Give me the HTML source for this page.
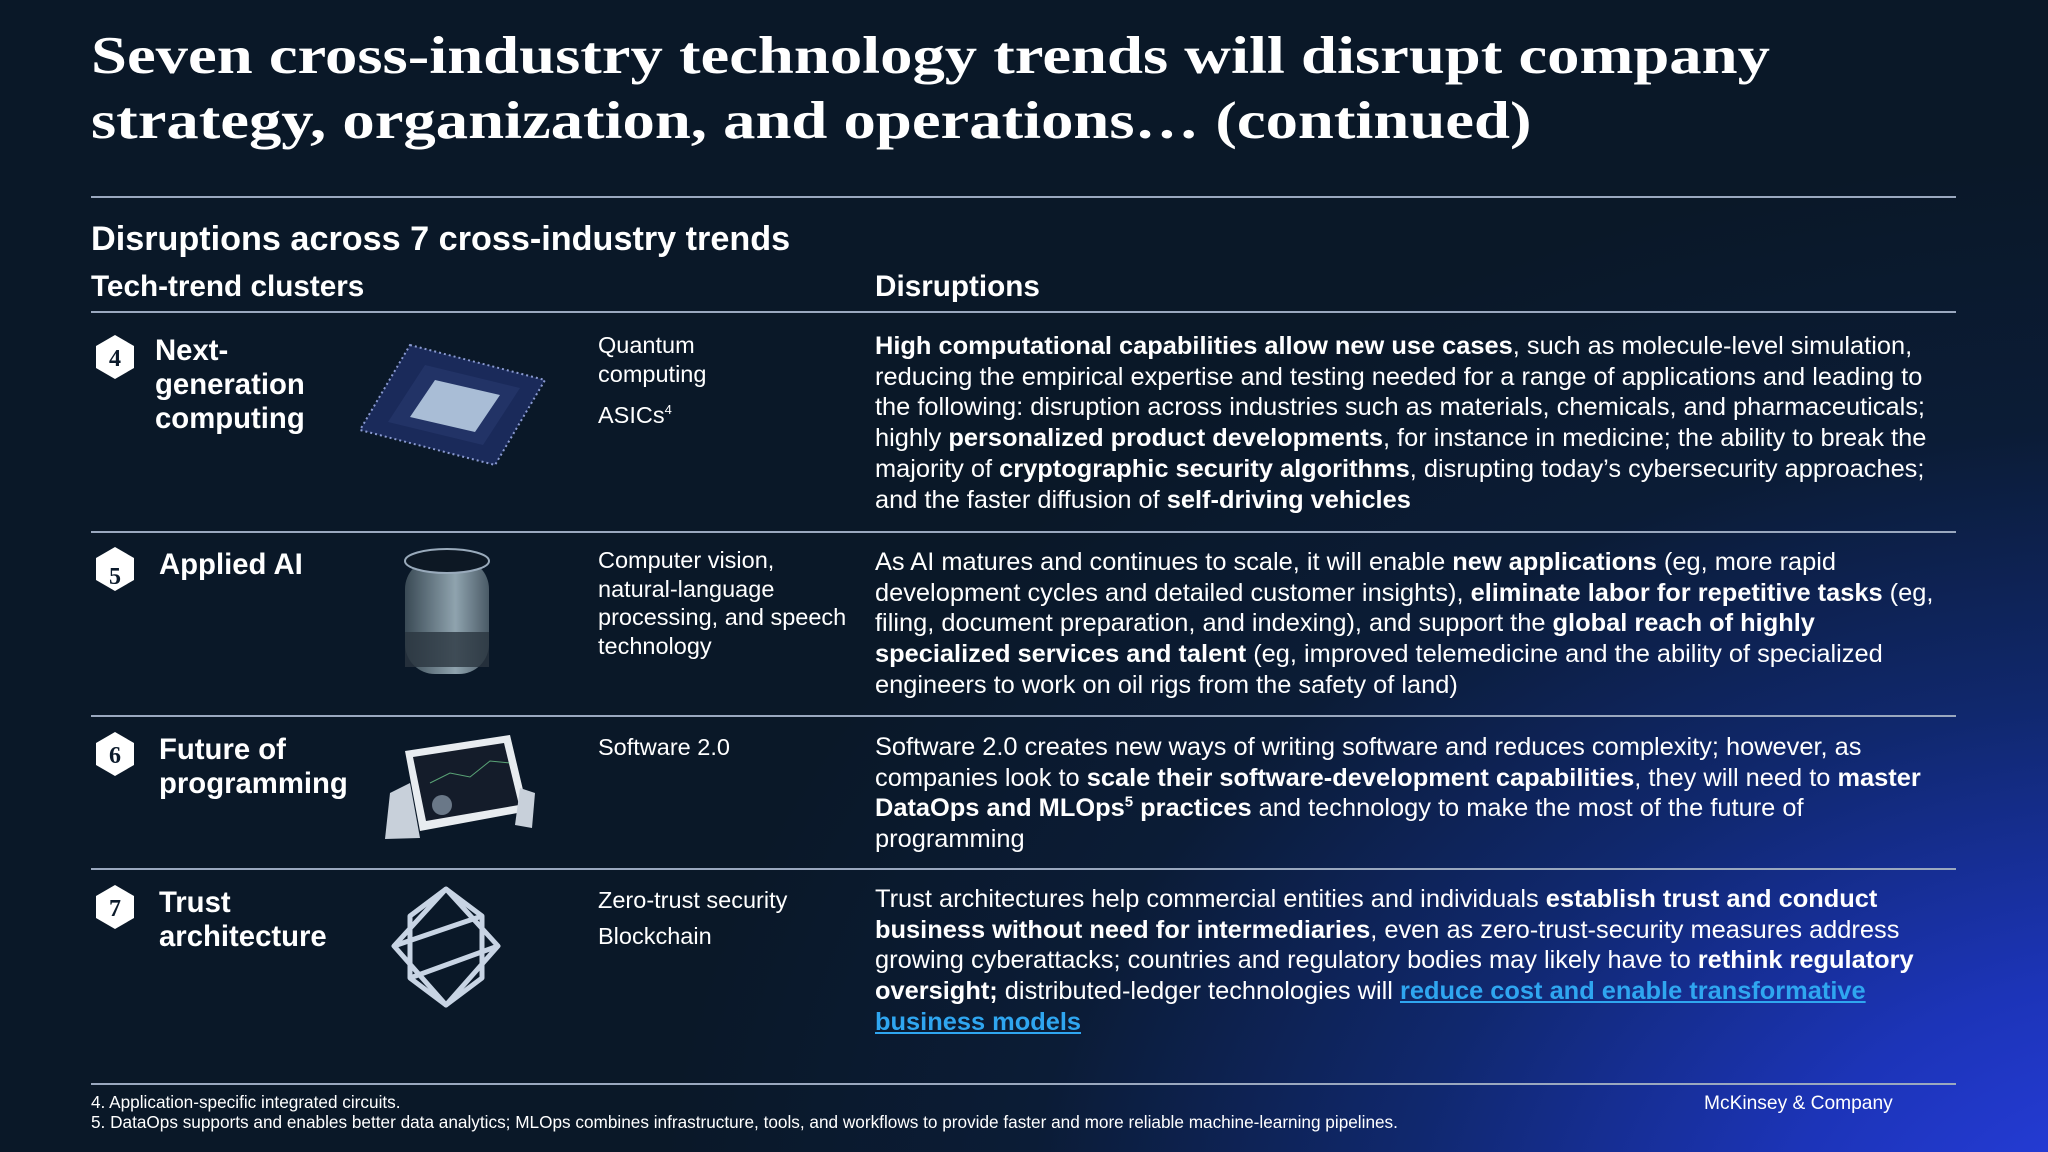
<!DOCTYPE html>
<html><head><meta charset="utf-8"><style>
*{margin:0;padding:0;box-sizing:border-box}
body{width:2048px;height:1152px;overflow:hidden;font-family:"Liberation Sans",Arial,sans-serif;color:#fff;
background:radial-gradient(ellipse 1500px 1100px at 2150px 1250px,#2a40e8 0%,#1c34b8 25%,#10286e 50%,#0b1c36 75%,#0a1828 100%);position:relative}
.a{position:absolute;white-space:nowrap}
.title{left:91px;top:24px;font-family:"Liberation Serif",serif;font-weight:bold;font-size:53px;line-height:65px;transform:scaleX(1.22);transform-origin:0 0}
.rule{position:absolute;left:91px;width:1865px;height:2px;background:#9aa8bf}
.h{font-weight:bold}
.body{font-size:25.4px;line-height:30.7px}
.body sup{line-height:0}
.tech{font-size:23.5px;line-height:28.5px}
.ct{font-weight:bold;font-size:29.3px;line-height:34px}
.badge{position:absolute;width:40px;height:46px}
a.link{color:#2fa6f0;text-decoration:underline;font-weight:bold}
</style></head><body>
<div class="a title">Seven cross-industry technology trends will disrupt company<br>strategy, organization, and operations… (continued)</div>
<div class="rule" style="top:196px"></div>
<div class="a h" style="left:91px;top:220px;font-size:34.2px">Disruptions across 7 cross-industry trends</div>
<div class="a h" style="left:91px;top:270px;font-size:29.7px">Tech-trend clusters</div>
<div class="a h" style="left:875px;top:270px;font-size:29.7px">Disruptions</div>
<div class="rule" style="top:311px"></div>

<!-- Row 4 -->
<svg class="badge" style="left:95px;top:334px" viewBox="0 0 40 46"><polygon points="20,1 39,12 39,34 20,45 1,34 1,12" fill="#fff"/><text x="20" y="32" text-anchor="middle" font-family="Liberation Serif" font-weight="bold" font-size="24" fill="#0b1a2b">4</text></svg>
<div class="a ct" style="left:155px;top:334px">Next-<br>generation<br>computing</div>
<svg class="a" style="left:355px;top:340px" width="195" height="128" viewBox="0 0 195 128">
<polygon points="55,5 190,40 140,125 5,90" fill="#1a2a5a" stroke="#8a9ad0" stroke-width="2" stroke-dasharray="2 3"/>
<polygon points="70,25 165,48 128,105 33,82" fill="#223366"/>
<polygon points="80,40 145,55 120,92 55,77" fill="#a9bdd6"/>
</svg>
<div class="a tech" style="left:598px;top:331px">Quantum<br>computing</div>
<div class="a tech" style="left:598px;top:396px">ASICs<sup style="font-size:13px">4</sup></div>
<div class="a body" style="left:875px;top:331px"><b>High computational capabilities allow new use cases</b>, such as molecule-level simulation,<br>reducing the empirical expertise and testing needed for a range of applications and leading to<br>the following: disruption across industries such as materials, chemicals, and pharmaceuticals;<br>highly <b>personalized product developments</b>, for instance in medicine; the ability to break the<br>majority of <b>cryptographic security algorithms</b>, disrupting today’s cybersecurity approaches;<br>and the faster diffusion of <b>self-driving vehicles</b></div>
<div class="rule" style="top:531px"></div>

<!-- Row 5 -->
<svg class="badge" style="left:95px;top:546px" viewBox="0 0 40 46"><polygon points="20,1 39,12 39,34 20,45 1,34 1,12" fill="#fff"/><text x="20" y="38" text-anchor="middle" font-family="Liberation Serif" font-weight="bold" font-size="24" fill="#0b1a2b">5</text></svg>
<div class="a ct" style="left:159px;top:548px">Applied AI</div>
<svg class="a" style="left:400px;top:544px" width="95" height="142" viewBox="0 0 95 142">
<defs><linearGradient id="cy" x1="0" x2="1"><stop offset="0" stop-color="#3a4a55"/><stop offset=".6" stop-color="#8fa3ae"/><stop offset="1" stop-color="#4a5a66"/></linearGradient></defs>
<rect x="5" y="15" width="84" height="115" rx="30" fill="url(#cy)"/>
<ellipse cx="47" cy="17" rx="42" ry="12" fill="#0d1824" stroke="#9ab" stroke-width="2"/>
<rect x="5" y="88" width="84" height="35" fill="#2a3640" opacity=".8"/>
</svg>
<div class="a tech" style="left:598px;top:546px">Computer vision,<br>natural-language<br>processing, and speech<br>technology</div>
<div class="a body" style="left:875px;top:547px">As AI matures and continues to scale, it will enable <b>new applications</b> (eg, more rapid<br>development cycles and detailed customer insights), <b>eliminate labor for repetitive tasks</b> (eg,<br>filing, document preparation, and indexing), and support the <b>global reach of highly</b><br><b>specialized services and talent</b> (eg, improved telemedicine and the ability of specialized<br>engineers to work on oil rigs from the safety of land)</div>
<div class="rule" style="top:715px"></div>

<!-- Row 6 -->
<svg class="badge" style="left:95px;top:731px" viewBox="0 0 40 46"><polygon points="20,1 39,12 39,34 20,45 1,34 1,12" fill="#fff"/><text x="20" y="32" text-anchor="middle" font-family="Liberation Serif" font-weight="bold" font-size="24" fill="#0b1a2b">6</text></svg>
<div class="a ct" style="left:159px;top:733px">Future of<br>programming</div>
<svg class="a" style="left:380px;top:733px" width="155" height="108" viewBox="0 0 155 108">
<polygon points="25,18 130,2 148,78 40,98" fill="#e8ecf0"/>
<polygon points="33,24 124,10 139,72 46,88" fill="#141c2a"/>
<circle cx="62" cy="72" r="10" fill="#6a7888"/>
<polyline points="50,50 70,40 90,44 110,28 130,30" fill="none" stroke="#8fa" stroke-width="1" opacity=".6"/>
<path d="M10,60 L30,50 L40,105 L5,106 Z" fill="#c8d0da"/><path d="M140,55 L155,60 L152,95 L135,92 Z" fill="#c8d0da"/>
</svg>
<div class="a tech" style="left:598px;top:733px">Software 2.0</div>
<div class="a body" style="left:875px;top:732px">Software 2.0 creates new ways of writing software and reduces complexity; however, as<br>companies look to <b>scale their software-development capabilities</b>, they will need to <b>master</b><br><b>DataOps and MLOps<sup style="font-size:15px">5</sup> practices</b> and technology to make the most of the future of<br>programming</div>
<div class="rule" style="top:868px"></div>

<!-- Row 7 -->
<svg class="badge" style="left:95px;top:884px" viewBox="0 0 40 46"><polygon points="20,1 39,12 39,34 20,45 1,34 1,12" fill="#fff"/><text x="20" y="32" text-anchor="middle" font-family="Liberation Serif" font-weight="bold" font-size="24" fill="#0b1a2b">7</text></svg>
<div class="a ct" style="left:159px;top:886px">Trust<br>architecture</div>
<svg class="a" style="left:390px;top:886px" width="112" height="122" viewBox="0 0 112 122">
<g fill="none" stroke="#c8d4e4" stroke-width="5" stroke-linejoin="round">
<polygon points="56,3 108,60 56,119 4,60"/>
<polyline points="56,3 20,30 20,92 56,119 92,92 92,30 56,3"/>
<line x1="4" y1="60" x2="92" y2="30"/><line x1="108" y1="60" x2="20" y2="92"/>
</g></svg>
<div class="a tech" style="left:598px;top:886px">Zero-trust security</div>
<div class="a tech" style="left:598px;top:922px">Blockchain</div>
<div class="a body" style="left:875px;top:884px">Trust architectures help commercial entities and individuals <b>establish trust and conduct</b><br><b>business without need for intermediaries</b>, even as zero-trust-security measures address<br>growing cyberattacks; countries and regulatory bodies may likely have to <b>rethink regulatory</b><br><b>oversight;</b> distributed-ledger technologies will <a class="link" href="#">reduce cost and enable transformative</a><br><a class="link" href="#">business models</a></div>
<div class="rule" style="top:1083px"></div>

<div class="a" style="left:91px;top:1092px;font-size:17.2px;line-height:20px">4. Application-specific integrated circuits.<br>5. DataOps supports and enables better data analytics; MLOps combines infrastructure, tools, and workflows to provide faster and more reliable machine-learning pipelines.</div>
<div class="a" style="left:1704px;top:1093px;font-size:19.2px">McKinsey &amp; Company</div>
</body></html>
